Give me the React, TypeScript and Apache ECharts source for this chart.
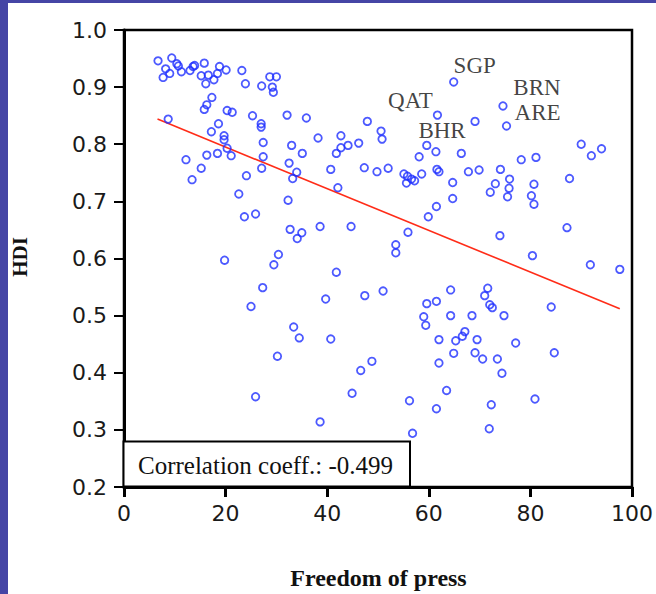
import React, { useEffect, useRef } from "react";
import * as echarts from "echarts";

// Freedom of press score (x) and HDI (y) for each country
const freedom = [
  6.7, 9.4, 8.2, 9.0, 7.7, 10.4, 10.7, 11.3, 13.0, 13.6, 13.9, 15.8, 15.2, 16.6, 16.1, 17.7, 18.4, 18.8, 20.1, 23.2,
  23.9, 27.1, 28.7, 30.0, 29.2, 29.4, 17.3, 16.3, 15.8, 8.7, 20.3, 21.3, 25.3, 32.1, 35.9, 18.6, 17.2, 27.0, 27.0, 19.7,
  19.7, 20.3, 27.4, 33.0, 38.2, 12.2, 16.3, 18.4, 21.1, 27.4, 35.1, 15.2, 27.1, 32.5, 34.0, 33.2, 13.4, 24.1, 22.6, 32.3,
  23.7, 25.9, 32.7, 35.0, 34.1, 38.6, 30.4, 29.5, 19.8, 27.3, 25.0, 33.4, 34.5, 30.2, 25.9, 38.6,
  47.9, 50.6, 50.8, 42.7, 42.7, 44.1, 41.8, 46.2, 59.6, 61.4, 58.1, 66.4, 40.7, 47.3, 49.8, 52.0, 55.1, 55.8, 56.6, 57.2,
  55.6, 58.6, 61.6, 62.0, 67.8, 69.9, 74.1, 75.9, 75.8, 75.5, 73.1, 72.1, 64.7, 64.7, 61.5, 59.9, 42.1, 44.7, 55.9, 53.5,
  53.5, 74.0, 41.8, 39.7, 47.4, 51.0, 64.3, 71.6, 71.0, 72.0, 72.5, 59.6, 61.5, 59.0, 59.4, 64.3, 68.5, 74.8, 40.7, 62.0,
  65.3, 66.6, 67.1, 69.5, 77.1, 64.9, 69.1, 70.6, 73.5, 74.4, 48.8, 46.6, 62.0, 44.9, 63.5, 56.2, 61.5, 72.3, 56.8, 71.9,
  90.0, 94.0, 92.0, 78.2, 81.1, 80.7, 87.7, 80.2, 80.7, 87.2, 80.4, 91.8, 97.6, 84.1, 84.7, 80.9,
];
const hdi = [
  0.946, 0.951, 0.932, 0.924, 0.917, 0.941, 0.937, 0.927, 0.929, 0.936, 0.938, 0.942, 0.92, 0.921, 0.906, 0.913, 0.924, 0.936, 0.93, 0.929,
  0.906, 0.902, 0.918, 0.918, 0.9, 0.891, 0.882, 0.869, 0.861, 0.844, 0.859, 0.856, 0.85, 0.851, 0.846, 0.836, 0.822, 0.836, 0.83, 0.815,
  0.808, 0.793, 0.803, 0.798, 0.811, 0.773, 0.781, 0.784, 0.78, 0.778, 0.784, 0.758, 0.758, 0.767, 0.751, 0.74, 0.738, 0.745, 0.713, 0.702,
  0.673, 0.678, 0.651, 0.645, 0.635, 0.656, 0.607, 0.589, 0.597, 0.549, 0.516, 0.48, 0.461, 0.429, 0.358, 0.314,
  0.84, 0.823, 0.809, 0.815, 0.794, 0.798, 0.784, 0.802, 0.798, 0.787, 0.778, 0.784, 0.756, 0.759, 0.752, 0.758, 0.748, 0.744, 0.739, 0.736,
  0.732, 0.748, 0.756, 0.752, 0.752, 0.755, 0.756, 0.739, 0.723, 0.708, 0.731, 0.716, 0.733, 0.705, 0.691, 0.673, 0.724, 0.656, 0.646, 0.624,
  0.61, 0.64, 0.576, 0.529, 0.535, 0.543, 0.545, 0.548, 0.535, 0.519, 0.514, 0.521, 0.525, 0.498, 0.483, 0.5, 0.5, 0.5, 0.459, 0.458,
  0.456, 0.464, 0.472, 0.458, 0.452, 0.434, 0.435, 0.424, 0.424, 0.399, 0.42, 0.404, 0.417, 0.364, 0.369, 0.351, 0.337, 0.344, 0.294, 0.302,
  0.8, 0.792, 0.78, 0.773, 0.777, 0.73, 0.74, 0.71, 0.695, 0.654, 0.605, 0.589, 0.581, 0.515, 0.435, 0.354,
];

// Labelled countries
const labelCodes = ["SGP", "QAT", "BHR", "BRN", "ARE"];
const labelFreedom = [64.9, 61.7, 69.1, 74.6, 75.3];
const labelHdi = [0.909, 0.851, 0.84, 0.867, 0.832];

// Fitted regression line end points
const fitFreedom = [6.6, 97.6];
const fitHdi = [0.844, 0.512];

const correlation = -0.499;
const xTitle = "Freedom of press";
const yTitle = "HDI";

// label offsets (pixels, style only)
const labelOffsets: number[][] = [
  [21, -16],
  [-27, -15],
  [-33, 9],
  [34, -18],
  [31, -13],
];

const SERIF = "'Liberation Serif', 'Times New Roman', serif";
const SANS = "'DejaVu Sans', sans-serif";
const BLUE = "#1f30ff";

export default function App() {
  const ref = useRef<HTMLDivElement>(null);

  useEffect(() => {
    if (!ref.current) return;
    const chart = echarts.init(ref.current, undefined, { renderer: "svg" });
    const pointStyle = {
      color: "rgba(0,0,0,0)",
      borderColor: BLUE,
      borderWidth: 1.8,
    };
    chart.setOption({
      animation: false,
      backgroundColor: "transparent",
      grid: {
        left: 124,
        right: 23,
        top: 30,
        bottom: 107,
        show: true,
        borderColor: "#000",
        borderWidth: 2.5,
        backgroundColor: "transparent",
      },
      xAxis: {
        type: "value",
        min: 0,
        max: 100,
        interval: 20,
        splitLine: { show: false },
        axisLine: { show: true, lineStyle: { color: "#000", width: 3 } },
        axisTick: { show: true, length: 10, lineStyle: { color: "#000", width: 3 } },
        axisLabel: { margin: 15, fontFamily: SANS, fontSize: 22, color: "#1a1a1a" },
      },
      yAxis: {
        type: "value",
        min: 0.2,
        max: 1.0,
        interval: 0.1,
        splitLine: { show: false },
        axisLine: { show: true, lineStyle: { color: "#000", width: 3 } },
        axisTick: { show: true, length: 10, lineStyle: { color: "#000", width: 2 } },
        axisLabel: {
          margin: 17,
          fontFamily: SANS,
          fontSize: 22,
          color: "#1a1a1a",
          formatter: (v: number) => v.toFixed(1),
        },
      },
      series: [
        {
          type: "line",
          data: fitFreedom.map((x, i) => [x, fitHdi[i]]),
          showSymbol: false,
          silent: true,
          lineStyle: { color: "#ff2c18", width: 1.6 },
          z: 1,
        },
        {
          type: "scatter",
          data: freedom.map((x, i) => [x, hdi[i]]),
          symbol: "circle",
          symbolSize: 7.5,
          silent: true,
          itemStyle: pointStyle,
          z: 2,
        },
        {
          type: "scatter",
          symbol: "circle",
          symbolSize: 7.5,
          silent: true,
          itemStyle: pointStyle,
          z: 3,
          data: labelCodes.map((c, i) => ({
            value: [labelFreedom[i], labelHdi[i]],
            name: c,
            label: {
              show: true,
              formatter: c,
              position: "inside",
              offset: labelOffsets[i],
              fontFamily: SERIF,
              fontSize: 23,
              lineHeight: 22,
              color: "#111",
            },
          })),
        },
      ],
      graphic: [
        {
          type: "rect",
          z: 100,
          shape: { x: 123.5, y: 441.5, width: 286.5, height: 45 },
          style: { fill: "#fff", stroke: "#000", lineWidth: 2 },
        },
        {
          type: "text",
          z: 101,
          x: 138,
          y: 465,
          style: {
            text: `Correlation coeff.: ${correlation}`,
            fontFamily: SERIF,
            fontSize: 25,
            fill: "#111",
            align: "left",
            verticalAlign: "middle",
          },
        },
        {
          type: "text",
          z: 101,
          x: 19.5,
          y: 257,
          rotation: Math.PI / 2,
          style: {
            text: yTitle,
            fontFamily: SERIF,
            fontWeight: "bold",
            fontSize: 21,
            fill: "#111",
            align: "center",
            verticalAlign: "middle",
          },
        },
        {
          type: "text",
          z: 101,
          x: 378.5,
          y: 578,
          style: {
            text: xTitle,
            fontFamily: SERIF,
            fontWeight: "bold",
            fontSize: 24,
            fill: "#111",
            align: "center",
            verticalAlign: "middle",
          },
        },
      ],
    });
    return () => chart.dispose();
  }, []);

  return (
    <div
      style={{
        position: "fixed",
        left: 0,
        top: 0,
        width: 656,
        height: 594,
        background: "#4545a5",
        overflow: "hidden",
      }}
    >
      <div
        style={{
          position: "absolute",
          left: 8,
          top: 3,
          width: 648,
          height: 591,
          background: "#ffffff",
        }}
      />
      <div ref={ref} style={{ position: "absolute", left: 0, top: 0, width: 656, height: 594 }} />
    </div>
  );
}
